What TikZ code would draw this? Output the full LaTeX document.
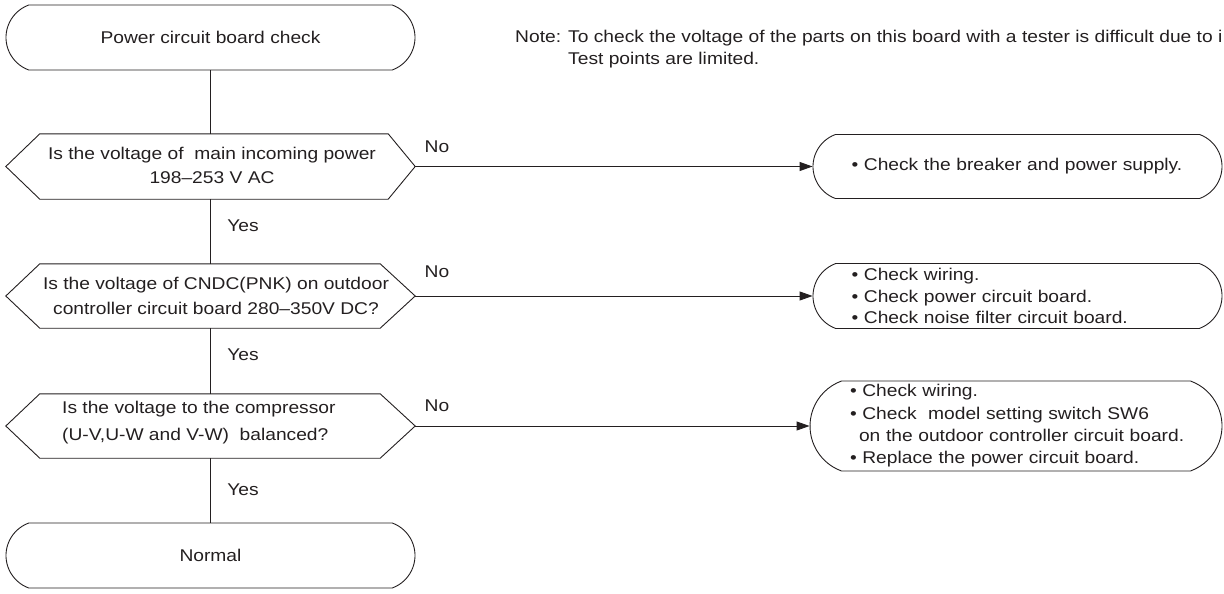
\documentclass[tikz,border=0pt]{standalone}
\usepackage{fontspec}
\setmainfont{Liberation Sans}[FakeStretch=1.13]
\usetikzlibrary{shapes.misc,arrows.meta}
\definecolor{ink}{HTML}{231F20}
\begin{document}
\begin{tikzpicture}[x=1pt,y=-1pt,
  txt/.style={text=ink, inner sep=0pt, font=\fontsize{17}{22}\selectfont},
  term/.style={draw=ink, line width=0.9pt, rounded rectangle, rounded rectangle arc length=140,
    minimum width=409pt, minimum height=65pt, inner sep=0pt, text=ink, font=\fontsize{17}{22}\selectfont},
  res/.style={term, align=left, text width=332pt},
  hexnode/.style={minimum width=409pt, minimum height=65pt, inner sep=0pt},
  conn/.style={draw=ink, line width=0.9pt},
  arr/.style={conn, -{Triangle[length=13pt,width=9pt]}}]
\useasboundingbox (0,0) rectangle (1224,594);

% main column
\node[term] (start) at (210.5,37.5) {Power circuit board check};
\node[hexnode] (d1) at (210.5,166.5) {};
\node[hexnode, minimum height=64pt] (d2) at (210.5,296) {};
\node[hexnode, minimum height=64pt] (d3) at (210.5,426) {};
\node[term] (end) at (210.5,555.5) {Normal};

% hexagons
\draw[conn] (d1.west) -- ([xshift=34pt]d1.north west) -- ([xshift=-27pt]d1.north east) -- (d1.east)
  -- ([xshift=-27pt]d1.south east) -- ([xshift=34pt]d1.south west) -- cycle;
\foreach \n in {d2,d3}{
  \draw[conn] (\n.west) -- ([xshift=34pt]\n.north west) -- ([xshift=-35pt]\n.north east) -- (\n.east)
    -- ([xshift=-35pt]\n.south east) -- ([xshift=34pt]\n.south west) -- cycle;
}

% question texts
\node[txt, align=center, font=\fontsize{17}{24}\selectfont] (d1t) at (212,165.8)
  {Is the voltage of\ \ main incoming power\\198–253 V AC};
\node[txt, align=center, font=\fontsize{17}{25}\selectfont] (d2t) at (216,296.2)
  {Is the voltage of CNDC(PNK) on outdoor\\controller circuit board 280–350V DC?};
\node[txt, align=left, anchor=west, font=\fontsize{17}{27}\selectfont] (d3t) at (62,422.1)
  {Is the voltage to the compressor\\(U-V,U-W and V-W)\ \ balanced?};

% result boxes
\node[res, minimum height=64pt] (r1) at (1017.5,166.5) {• Check the breaker and power supply.};
\node[res, font=\fontsize{17}{21.5}\selectfont] (r2) at (1017.5,296)
  {• Check wiring.\\• Check power circuit board.\\• Check noise filter circuit board.};
\node[res, text width=346pt, minimum width=412pt, minimum height=90pt, font=\fontsize{17}{22.3}\selectfont] (r3) at (1016,426)
  {\hspace*{7pt}• Check wiring.\\\hspace*{7pt}• Check\ \ model setting switch SW6\\\hspace*{16pt}on the outdoor controller circuit board.\\\hspace*{7pt}• Replace the power circuit board.};

% connectors
\draw[conn] (start.south) -- (d1.north);
\draw[conn] (d1.south) -- (d2.north);
\draw[conn] (d2.south) -- (d3.north);
\draw[conn] (d3.south) -- (end.north);
\draw[arr] (d1.east) -- (r1.west);
\draw[arr] (d2.east) -- (r2.west);
\draw[arr] (d3.east) -- (r3.west);

% labels
\node[txt] (no1) at (437,147) {No};
\node[txt] (no2) at (437,272) {No};
\node[txt] (no3) at (437,406) {No};
\node[txt] (yes1) at (243,226) {Yes};
\node[txt] (yes2) at (243,355) {Yes};
\node[txt] (yes3) at (243,490) {Yes};

% note
\node[txt, align=left, anchor=west] (note) at (515,49.6)
  {Note: To check the voltage of the parts on this board with a tester is difficult due to i\\\hphantom{Note: }Test points are limited.};
\end{tikzpicture}
\end{document}
